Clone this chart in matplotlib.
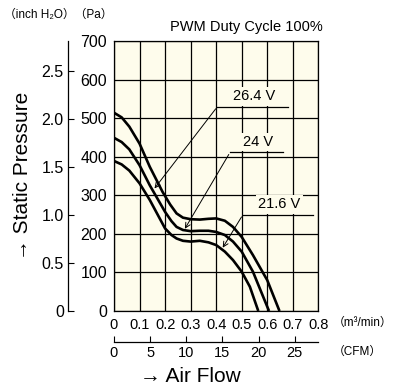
import matplotlib
matplotlib.use("Agg")
import matplotlib.pyplot as plt

# curves: air flow (m3/min) vs static pressure (Pa)
flow_264 = [0, 0.03, 0.06, 0.1, 0.14, 0.19, 0.22, 0.245, 0.27, 0.3, 0.336, 0.37, 0.4, 0.434, 0.466, 0.5, 0.544, 0.6, 0.648]
pres_264 = [514, 502, 478, 434, 374, 309, 276, 253, 242, 238, 237, 239, 240, 234, 218, 192, 145, 80, 0]

flow_24 = [0, 0.03, 0.06, 0.1, 0.14, 0.2, 0.225, 0.245, 0.27, 0.3, 0.336, 0.37, 0.4, 0.434, 0.466, 0.5, 0.544, 0.607]
pres_24 = [449, 438, 419, 378, 326, 257, 233, 218, 210, 207, 208, 208, 205, 197, 180, 154, 102, 0]

flow_216 = [0, 0.03, 0.06, 0.1, 0.14, 0.2, 0.225, 0.245, 0.27, 0.3, 0.336, 0.37, 0.4, 0.434, 0.466, 0.5, 0.532, 0.565]
pres_216 = [389, 380, 364, 331, 288, 214, 197, 188, 182, 180, 182, 178, 171, 154, 132, 102, 63, 0]

pa_ticks = [0, 100, 200, 300, 400, 500, 600, 700]
inch_ticks = [0, 0.5, 1.0, 1.5, 2.0, 2.5]
m3_ticks = [0, 0.1, 0.2, 0.3, 0.4, 0.5, 0.6, 0.7, 0.8]
cfm_ticks = [0, 5, 10, 15, 20, 25]

PA_PER_INCH = 249.089
M3_PER_CFM = 0.0283168

W, H = 394, 391
bg = "#fefcec"
num_font = ["Liberation Sans Narrow", "Liberation Sans", "DejaVu Sans"]
txt_font = ["Liberation Sans", "DejaVu Sans"]
unit_font = ["Liberation Sans", "Noto Sans CJK JP", "DejaVu Sans"]

def fx(px):
    return px / W

def fy(py):
    return 1 - py / H

fig = plt.figure(figsize=(W / 100, H / 100), dpi=100)
fig.patch.set_facecolor("white")

left, right, top, bottom = 114, 318.3, 41, 311
ax = fig.add_axes([fx(left), fy(bottom), (right - left) / W, (bottom - top) / H])
ax.set_facecolor(bg)
ax.set_xlim(0, 0.8)
ax.set_ylim(0, 700)
ax.set_xticks(m3_ticks)
ax.set_yticks(pa_ticks)
ax.set_xticklabels(["0" if t == 0 else "%.1f" % t for t in m3_ticks], family=num_font, fontsize=10.5)
ax.set_yticklabels([str(t) for t in pa_ticks], family=num_font, fontsize=11.5)
ax.tick_params(length=0, pad=5)
ax.grid(True, color="black", linewidth=0.9)
for s in ax.spines.values():
    s.set_linewidth(0.9)

for fl, pr in [(flow_264, pres_264), (flow_24, pres_24), (flow_216, pres_216)]:
    ax.plot(fl, pr, color="black", linewidth=1.9, solid_capstyle="butt", solid_joinstyle="round")

# voltage labels with leader lines
labels = [
    ("26.4 V", 0.152, 312, 0.405, 530, 0.405, 0.68),
    ("24 V", 0.272, 207, 0.455, 412, 0.455, 0.66),
    ("21.6 V", 0.420, 158, 0.505, 250, 0.505, 0.78),
]
for name, x0, y0, x1, y1, ux0, ux1 in labels:
    ax.annotate("", xy=(x0, y0), xytext=(x1, y1),
                arrowprops=dict(arrowstyle="->", color="black", lw=0.7, mutation_scale=9))
    ax.plot([ux0, ux1], [y1, y1], color="black", lw=0.9, zorder=4)
    ax.text((ux0 + ux1) / 2 + 0.005, y1 + 8, name, ha="center", va="bottom", fontsize=10.5,
            family=txt_font, zorder=5,
            bbox=dict(facecolor=bg, edgecolor="none", pad=1.5))

# inch H2O axis
ax_in = fig.add_axes([fx(68), fy(bottom), 0.001, (bottom - top) / H])
ax_in.set_ylim(0, 700 / PA_PER_INCH)
ax_in.set_yticks(inch_ticks)
ax_in.set_yticklabels(["0" if t == 0 else "%.1f" % t for t in inch_ticks], family=num_font, fontsize=11.5)
ax_in.set_xticks([])
ax_in.tick_params(axis="y", direction="in", length=4.5, width=0.8, pad=3)
for k in ["top", "right", "bottom"]:
    ax_in.spines[k].set_visible(False)
ax_in.spines["left"].set_linewidth(0.9)
ax_in.patch.set_visible(False)

# CFM axis
ax_cfm = fig.add_axes([fx(left), fy(341.7), (right - left) / W, 0.001])
ax_cfm.set_xlim(0, 0.8 / M3_PER_CFM)
ax_cfm.set_xticks(cfm_ticks)
ax_cfm.set_xticklabels([str(t) for t in cfm_ticks], family=num_font, fontsize=10.5)
ax_cfm.set_yticks([])
ax_cfm.tick_params(axis="x", direction="in", length=4, width=0.8, pad=3)
for k in ["top", "right", "left"]:
    ax_cfm.spines[k].set_visible(False)
ax_cfm.spines["bottom"].set_linewidth(0.9)
ax_cfm.patch.set_visible(False)

fig.text(fx(4), fy(15), "\uff08inch H\u2082O\uff09\uff08Pa\uff09", fontsize=8.5, family=unit_font, va="center", ha="left")
fig.text(fx(170), fy(27), "PWM Duty Cycle 100%", fontsize=10.5, family=txt_font, va="center", ha="left")
fig.text(fx(333), fy(323), "\uff08m\u00b3/min\uff09", fontsize=8.5, family=unit_font, va="center", ha="left")
fig.text(fx(333), fy(352), "\uff08CFM\uff09", fontsize=8.5, family=unit_font, va="center", ha="left")
fig.text(fx(190), fy(377), "\u2192 Air Flow", fontsize=15, family=txt_font, va="center", ha="center")
fig.text(fx(23), fy(176), "\u2192 Static Pressure", fontsize=15, family=txt_font,
         va="center", ha="center", rotation=90)

fig.savefig("out.png", dpi=100, facecolor="white")
